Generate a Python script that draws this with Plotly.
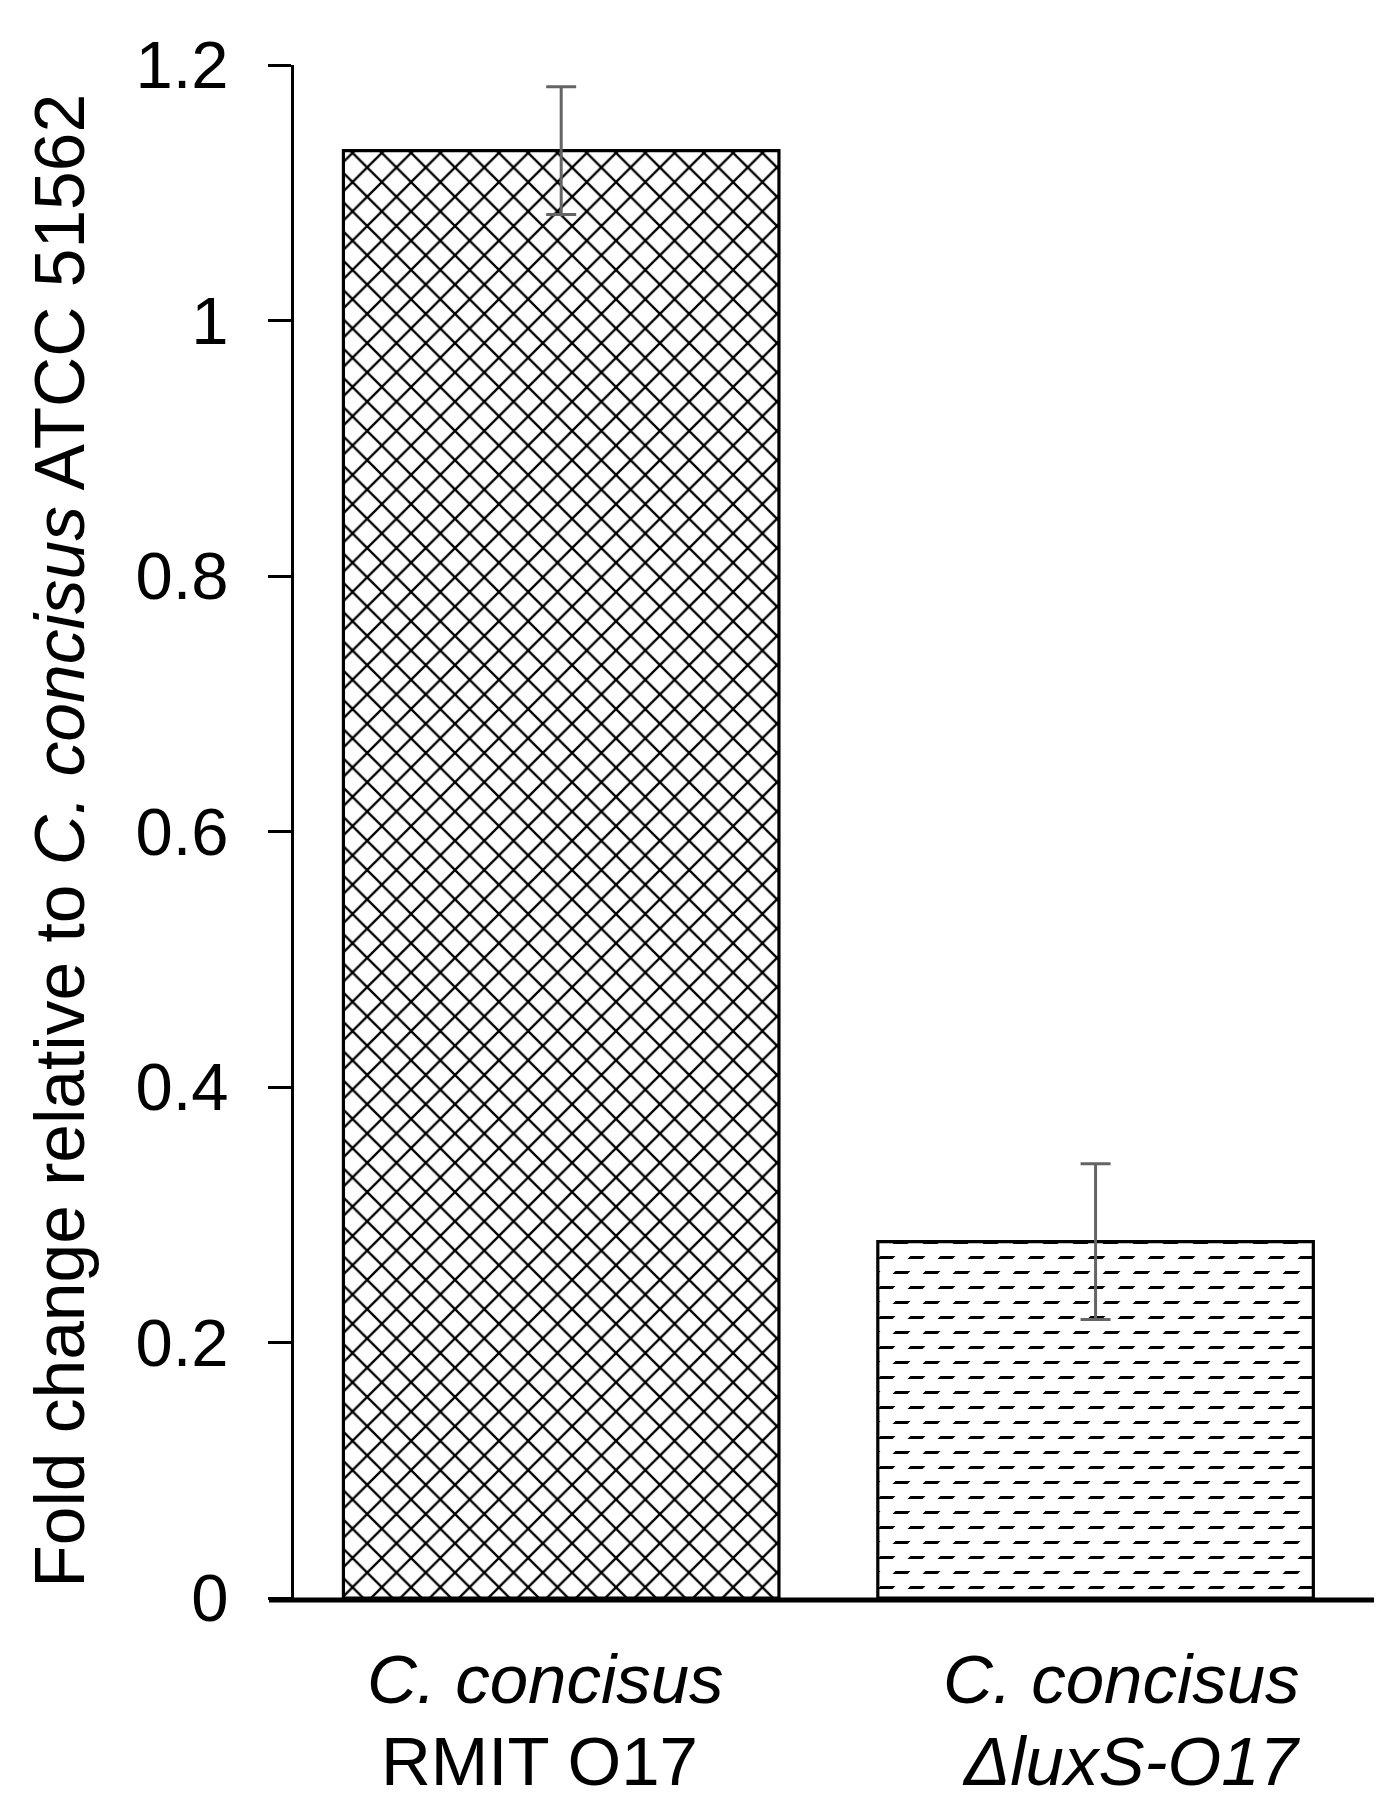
import plotly.graph_objects as go

# ---- data ----
categories = ["RMIT O17", "luxS-O17"]
values = [1.133, 0.279]
errors = [0.050, 0.061]
label_lines_1 = ["<i>C. concisus</i>", "<i>C. concisus</i>"]
label_lines_2 = ["RMIT O17", "<i>ΔluxS-O17</i>"]
label_shift_1 = [-16, 26]
label_shift_2 = [-22, 36]
ytick_vals = [0, 0.2, 0.4, 0.6, 0.8, 1.0, 1.2]
ytick_text = ["0", "0.2", "0.4", "0.6", "0.8", "1", "1.2"]
y_title = "Fold change relative to <i>C. concisus</i> ATCC 51562"

FONT = "Liberation Sans, Arial, sans-serif"

W, H = 1374, 1799
ML, MT, MB = 286, 57, 209
PW = W - ML
PH = H - MT - MB

fig = go.Figure()

# base fill: cross-hatch for bar 1, horizontal lines for bar 2
fig.add_trace(go.Bar(
    x=categories, y=values,
    marker=dict(
        color="white",
        line=dict(width=0),
        pattern=dict(
            shape=["x", "-"],
            size=[20.7, 15],
            solidity=[0.21, 0.2],
            fgcolor="black",
            bgcolor="white",
            fillmode="overlay",
            fgopacity=1,
        ),
    ),
    hoverinfo="skip",
    showlegend=False,
))

# white diagonal breaker turns the horizontal lines of bar 2 into staggered dashes;
# also carries the outlines and the error bars
fig.add_trace(go.Bar(
    x=categories, y=values,
    marker=dict(
        color="rgba(0,0,0,0)",
        line=dict(width=3.2, color="black"),
        pattern=dict(
            shape=["", "/"],
            size=[21.213, 21.213],
            solidity=[0.5, 0.5],
            fgcolor="white",
            bgcolor="rgba(0,0,0,0)",
            fillmode="overlay",
            fgopacity=1,
        ),
    ),
    error_y=dict(type="data", array=errors, visible=True,
                 color="#646464", thickness=3, width=15),
    hoverinfo="skip",
    showlegend=False,
))

fig.update_layout(
    width=W, height=H,
    margin=dict(l=ML, r=0, t=MT, b=MB, autoexpand=False),
    paper_bgcolor="white", plot_bgcolor="white",
    barmode="overlay",
    bargap=0.185,
    font=dict(family=FONT, color="black"),
    xaxis=dict(
        type="category",
        range=[-0.5, 1.536],
        showticklabels=False, ticks="", showline=False,
        showgrid=False, zeroline=False, fixedrange=True,
    ),
    yaxis=dict(
        range=[0, 1.2],
        tickvals=ytick_vals, ticktext=ytick_text,
        ticks="outside", ticklen=23, tickwidth=3, tickcolor="black",
        showline=True, linewidth=3, linecolor="black",
        showgrid=False, zeroline=False,
        tickfont=dict(family=FONT, size=67, color="black"),
        ticklabelstandoff=26,
        automargin=False,
    ),
)

# baseline (x axis line)
fig.add_shape(type="line", xref="paper", yref="paper",
              x0=(261 - ML) / PW, x1=1.0, y0=-2 / PH, y1=-2 / PH,
              line=dict(color="black", width=5), layer="above")

# y-axis title
fig.add_annotation(
    text=y_title, textangle=-90,
    xref="paper", yref="paper", x=(52 - ML) / PW, y=0.494,
    xanchor="center", yanchor="middle", showarrow=False,
    font=dict(family=FONT, size=69.5, color="black"),
)

# category labels (two lines each)
for cat, l1, l2, s1, s2 in zip(categories, label_lines_1, label_lines_2,
                               label_shift_1, label_shift_2):
    fig.add_annotation(
        text=l1, xref="x", yref="paper", x=cat, y=0,
        xanchor="center", yanchor="top", xshift=s1, yshift=-41,
        showarrow=False, font=dict(family=FONT, size=69, color="black"),
    )
    fig.add_annotation(
        text=l2, xref="x", yref="paper", x=cat, y=0,
        xanchor="center", yanchor="top", xshift=s2, yshift=-123,
        showarrow=False, font=dict(family=FONT, size=69, color="black"),
    )

fig.write_html("out.html")
